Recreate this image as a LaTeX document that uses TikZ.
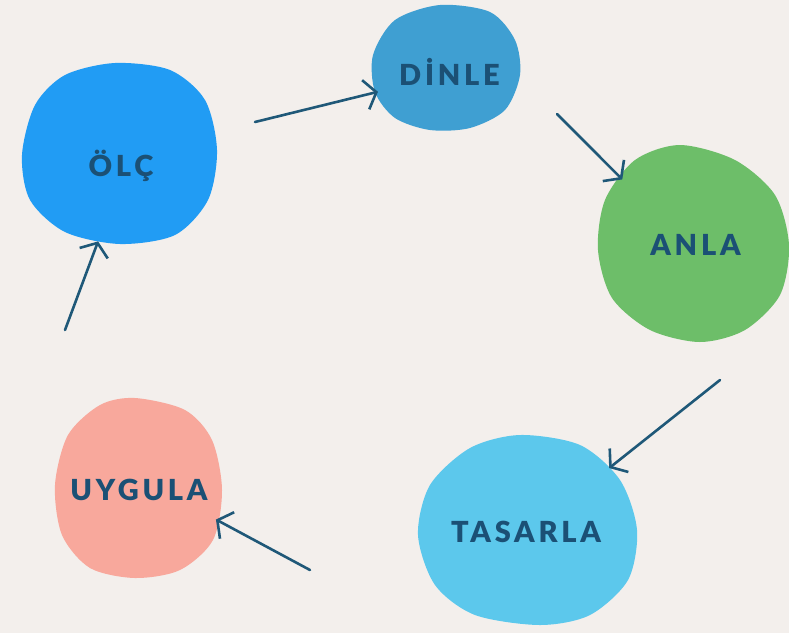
\documentclass[tikz,border=0pt]{standalone}
\usepackage{fontspec}
\setmainfont{Lato}
\newfontfamily\lblfont{Lato Black}[LetterSpace=13]
\usetikzlibrary{arrows.meta,shapes.geometric}
\definecolor{bgc}{HTML}{F3EFEC}
\definecolor{txtc}{HTML}{1B5075}
\definecolor{arrc}{HTML}{1F5878}
\definecolor{olcc}{HTML}{219CF4}
\definecolor{dinc}{HTML}{3F9FD2}
\definecolor{anlc}{HTML}{6DBE69}
\definecolor{tasc}{HTML}{5CC8EC}
\definecolor{uygc}{HTML}{F8A89C}
\tikzset{
  anchorshape/.style={ellipse,inner sep=0pt,draw=none},
  lbl/.style={text=txtc,font=\lblfont\fontsize{29}{31}\selectfont,inner sep=0pt},
  arr/.style={draw=arrc,line width=2.6pt,line cap=round,
    -{Straight Barb[length=11pt,width=30pt]}},
}
\begin{document}
\begin{tikzpicture}[x=1pt,y=-1pt]
\fill[bgc] (0,0) rectangle (789,633);
\useasboundingbox (0,0) rectangle (789,633);
% blobs
\fill[olcc] plot[smooth cycle] coordinates {(115,63) (170,70) (205,100) (217,150) (208,200) (175,235) (120,244) (65,232) (30,200) (22,155) (35,105) (65,75)};
\fill[dinc] plot[smooth cycle] coordinates {(440,5) (490,12) (515,40) (520,75) (505,110) (470,128) (430,130) (395,118) (375,92) (373,55) (395,20)};
\fill[anlc] plot[smooth cycle] coordinates {(680,145) (735,160) (775,195) (789,245) (780,295) (745,330) (700,342) (650,330) (612,298) (598,250) (605,200) (635,160)};
\fill[tasc] plot[smooth cycle] coordinates {(520,435) (580,445) (620,480) (637,530) (628,580) (590,615) (540,625) (475,615) (435,585) (418,535) (430,485) (470,448)};
\fill[uygc] plot[smooth cycle] coordinates {(135,398) (185,410) (212,440) (222,490) (213,540) (180,570) (135,578) (90,568) (62,535) (55,485) (68,435) (100,405)};
% anchor shapes
\node[anchorshape,minimum width=194pt,minimum height=180pt] (olc) at (120,153.5) {};
\node[anchorshape,minimum width=148pt,minimum height=124pt] (din) at (446,67) {};
\node[anchorshape,minimum width=190pt,minimum height=196pt] (anl) at (694,244) {};
\node[anchorshape,minimum width=216pt,minimum height=190pt] (tas) at (527,530) {};
\node[anchorshape,minimum width=166pt,minimum height=180pt] (uyg) at (138,488) {};
% labels
\node[lbl] (tolc) at (121,166) {ÖLÇ};
\node[lbl] (tdin) at (449.5,72) {DİNLE};
\node[lbl] (tanl) at (695.5,245) {ANLA};
\node[lbl] (ttas) at (526,532) {TASARLA};
\node[lbl] (tuyg) at (139,490) {UYGULA};
% arrows
\coordinate (s1) at (255,122);
\coordinate (s2) at (557,114);
\coordinate (s3) at (720,380);
\coordinate (s4) at (310,570);
\coordinate (s5) at (65,330);
\draw[arr] (s1) -- (din.200);
\draw[arr] (s2) -- (anl.138);
\draw[arr] (s3) -- (tas.37);
\draw[arr] (s4) -- (uyg.-22.5);
\draw[arr] (s5) -- (olc.256);
\end{tikzpicture}
\end{document}
